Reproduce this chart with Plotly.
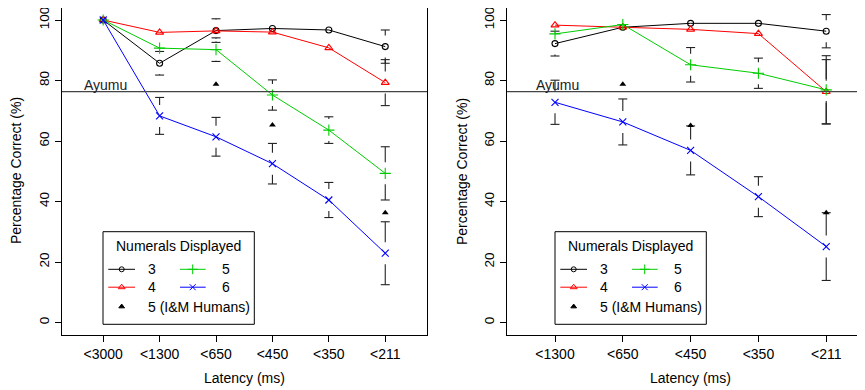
import plotly.graph_objects as go

# ---------------- data ----------------
latency_left = ["<3000", "<1300", "<650", "<450", "<350", "<211"]
latency_right = ["<1300", "<650", "<450", "<350", "<211"]

left_3 = [100, 85.7, 96.5, 97.2, 96.7, 91.2]
left_4 = [100, 95.9, 96.4, 96.0, 90.8, 79.3]
left_5 = [100, 90.7, 90.2, 75.2, 63.6, 49.3]
left_6 = [100, 68.3, 61.4, 52.5, 40.5, 22.9]
left_human = [None, None, 78.8, 65.3, None, 36.3]
left_ci_3 = [0, 3.9, 3.9, 0, 0, 5.5]
left_ci_4 = [0, 0, 0, 0, 0, 7.6]
left_ci_5 = [0, 0, 3.9, 5.0, 4.4, 8.8]
left_ci_6 = [0, 6.1, 6.4, 6.7, 5.8, 10.4]

right_3 = [92.2, 97.6, 98.9, 98.9, 96.3]
right_4 = [98.3, 97.6, 96.9, 95.5, 76.3]
right_5 = [95.4, 98.5, 85.2, 82.4, 76.9]
right_6 = [72.8, 66.3, 56.9, 41.6, 25.1]
right_human = [None, 78.8, 65.1, None, 36.3]
right_ci_3 = [4.1, 0, 0, 0, 5.5]
right_ci_4 = [0, 0, 0, 0, 10.6]
right_ci_5 = [0, 0, 5.7, 5.0, 11.3]
right_ci_6 = [7.3, 7.6, 8.1, 6.6, 11.2]

ayumu_level = 76.3
y_ticks = [0, 20, 40, 60, 80, 100]

# ---------------- styling / layout ----------------
OFF = 8                      # default page margin of the browser
W, H = 865 - OFF, 390 - OFF
FONT = "Liberation Sans, Arial, sans-serif"
FS = 14
FS_Y = 13.5
C3, C4, C5, C6 = "#000000", "#FF0000", "#00CD00", "#0000FF"
BARC = "#222222"

PXU = 3.025                  # px per percentage unit
Y0PX = 322.5                 # px (page) of value 0
YD = (8, 335)                # page px, top / bottom of box
YR = ((Y0PX - YD[1]) / PXU, (Y0PX - YD[0]) / PXU)

panels = {
    "left": dict(xd=(62, 427), xr=(0.27, 6.74), xa="x", ya="y", leg=103, ayu=82,
                 cats=latency_left,
                 series=[(left_3, left_ci_3), (left_4, left_ci_4), (left_5, left_ci_5), (left_6, left_ci_6)],
                 human=left_human),
    "right": dict(xd=(507, 865), xr=(0.292, 5.572), xa="x2", ya="y2", leg=555, ayu=534,
                  cats=latency_right,
                  series=[(right_3, right_ci_3), (right_4, right_ci_4), (right_5, right_ci_5), (right_6, right_ci_6)],
                  human=right_human),
}
styles = [
    (C3, "circle-open", 6),
    (C4, "triangle-up-open", 7),
    (C5, "cross-thin", 8),
    (C6, "x-thin", 7),
]


def fx(px):
    return (px - OFF) / W


def fy(py):
    return 1 - (py - OFF) / H


def px2x(p, px):
    d0, d1 = p["xd"]
    r0, r1 = p["xr"]
    return r0 + (px - d0) / (d1 - d0) * (r1 - r0)


def py2y(py):
    return (Y0PX - py) / PXU


GAP = 11 / PXU  # gap around each point, as in gplots::plotCI

fig = go.Figure()
shapes = []
annotations = []

for name, p in panels.items():
    xa, ya = p["xa"], p["ya"]
    xs = list(range(1, len(p["cats"]) + 1))
    capw = px2x(p, p["xd"][0] + 4.5) - px2x(p, p["xd"][0])

    # error bars with a gap around the point
    bx, by = [], []
    for vals, cis in p["series"]:
        for x, y, c in zip(xs, vals, cis):
            if y is None or c <= GAP:
                continue
            for s in (1, -1):
                bx += [x, x, None, x - capw, x + capw, None]
                by += [y + s * GAP, y + s * c, None, y + s * c, y + s * c, None]
    fig.add_trace(go.Scatter(x=bx, y=by, mode="lines", line=dict(color=BARC, width=1.1),
                             xaxis=xa, yaxis=ya, showlegend=False, hoverinfo="skip"))

    # series
    for (vals, cis), (col, sym, sz) in zip(p["series"], styles):
        fig.add_trace(go.Scatter(
            x=xs, y=vals, mode="lines+markers",
            line=dict(color=col, width=1),
            marker=dict(symbol=sym, size=sz, color=col, line=dict(color=col, width=1.1)),
            xaxis=xa, yaxis=ya, showlegend=False))
    fig.add_trace(go.Scatter(
        x=xs, y=p["human"], mode="markers",
        marker=dict(symbol="triangle-up", size=6, color="black"),
        xaxis=xa, yaxis=ya, showlegend=False))

    # Ayumu line and label
    shapes.append(dict(type="line", xref=f"{xa} domain", yref=ya, x0=0, x1=1,
                       y0=ayumu_level, y1=ayumu_level, line=dict(color="#444444", width=1.2)))
    annotations.append(dict(text="Ayumu", xref=xa, yref=ya, x=px2x(p, p["ayu"]), y=ayumu_level,
                            xanchor="left", yanchor="bottom", showarrow=False, yshift=-3,
                            font=dict(size=FS, color="#222222")))

    # manual legend
    L = p["leg"]
    shapes.append(dict(type="rect", xref=xa, yref=ya,
                       x0=px2x(p, L), x1=px2x(p, L + 151.3),
                       y0=py2y(324.3), y1=py2y(231.7),
                       line=dict(color="black", width=1), fillcolor="white", layer="below"))
    annotations.append(dict(text="Numerals Displayed", xref=xa, yref=ya,
                            x=px2x(p, L + 75.7), y=py2y(245.5), xanchor="center", yanchor="middle",
                            showarrow=False, font=dict(size=FS, color="black")))
    rows = [269.3, 287.2, 306.6]
    cols = [dict(l0=5.3, l1=32, m=18.7, t=43), dict(l0=77, l1=102.7, m=89.7, t=117)]
    entries = [
        (0, 0, styles[0], "3", True),
        (0, 1, styles[1], "4", True),
        (0, 2, ("black", "triangle-up", 5), "5 (I&M Humans)", False),
        (1, 0, styles[2], "5", True),
        (1, 1, styles[3], "6", True),
    ]
    for ci, ri, (col, sym, sz), label, has_line in entries:
        c = cols[ci]
        yy = py2y(rows[ri])
        if has_line:
            fig.add_trace(go.Scatter(x=[px2x(p, L + c["l0"]), px2x(p, L + c["l1"])], y=[yy, yy],
                                     mode="lines", line=dict(color=col, width=1),
                                     xaxis=xa, yaxis=ya, showlegend=False, hoverinfo="skip"))
        fig.add_trace(go.Scatter(x=[px2x(p, L + c["m"])], y=[yy], mode="markers",
                                 marker=dict(symbol=sym, size=sz if not has_line else sz - 1, color=col,
                                             line=dict(color=col, width=1)),
                                 xaxis=xa, yaxis=ya, showlegend=False, hoverinfo="skip"))
        annotations.append(dict(text=label, xref=xa, yref=ya, x=px2x(p, L + c["t"]), y=yy,
                                xanchor="left", yanchor="middle", showarrow=False,
                                font=dict(size=FS, color="black")))

# axis titles
for cx in (244.5, 690):
    annotations.append(dict(text="Latency (ms)", xref="paper", yref="paper", x=fx(cx), y=fy(378),
                            xanchor="center", yanchor="middle", showarrow=False,
                            font=dict(size=FS, color="black")))
for cx in (16, 462):
    annotations.append(dict(text="Percentage Correct (%)", xref="paper", yref="paper", x=fx(cx),
                            y=fy(171), xanchor="center", yanchor="middle", textangle=-90,
                            showarrow=False, font=dict(size=FS, color="black")))

ydom = [fy(YD[1]), min(1.0, fy(YD[0]))]


def xaxis(p, mirror):
    return dict(domain=[fx(p["xd"][0]), min(1.0, fx(p["xd"][1]))], range=list(p["xr"]),
                tickvals=list(range(1, len(p["cats"]) + 1)), ticktext=p["cats"],
                ticks="outside", ticklen=6, tickcolor="black", tickwidth=1,
                showline=True, linecolor="black", linewidth=1.3, mirror=mirror,
                showgrid=False, zeroline=False, tickfont=dict(size=FS, color="black"),
                ticklabeloverflow="allow", fixedrange=True)


def yaxis(anchor, mirror):
    return dict(domain=ydom, range=list(YR), tickvals=y_ticks, ticktext=[str(v) for v in y_ticks],
                tickangle=-90, ticks="outside", ticklen=6, tickcolor="black", tickwidth=1,
                showline=True, linecolor="black", linewidth=1.3, mirror=mirror,
                showgrid=False, zeroline=False, tickfont=dict(size=FS_Y, color="black"),
                ticklabeloverflow="allow", anchor=anchor, fixedrange=True)


fig.update_layout(
    width=W, height=H, margin=dict(l=0, r=0, t=0, b=0),
    paper_bgcolor="white", plot_bgcolor="white",
    font=dict(family=FONT, size=FS, color="black"),
    xaxis=dict(xaxis(panels["left"], True), anchor="y"),
    yaxis=yaxis("x", True),
    xaxis2=dict(xaxis(panels["right"], True), anchor="y2"),
    yaxis2=yaxis("x2", False),
    shapes=shapes, annotations=annotations, showlegend=False,
)

fig.write_html("out.html")
